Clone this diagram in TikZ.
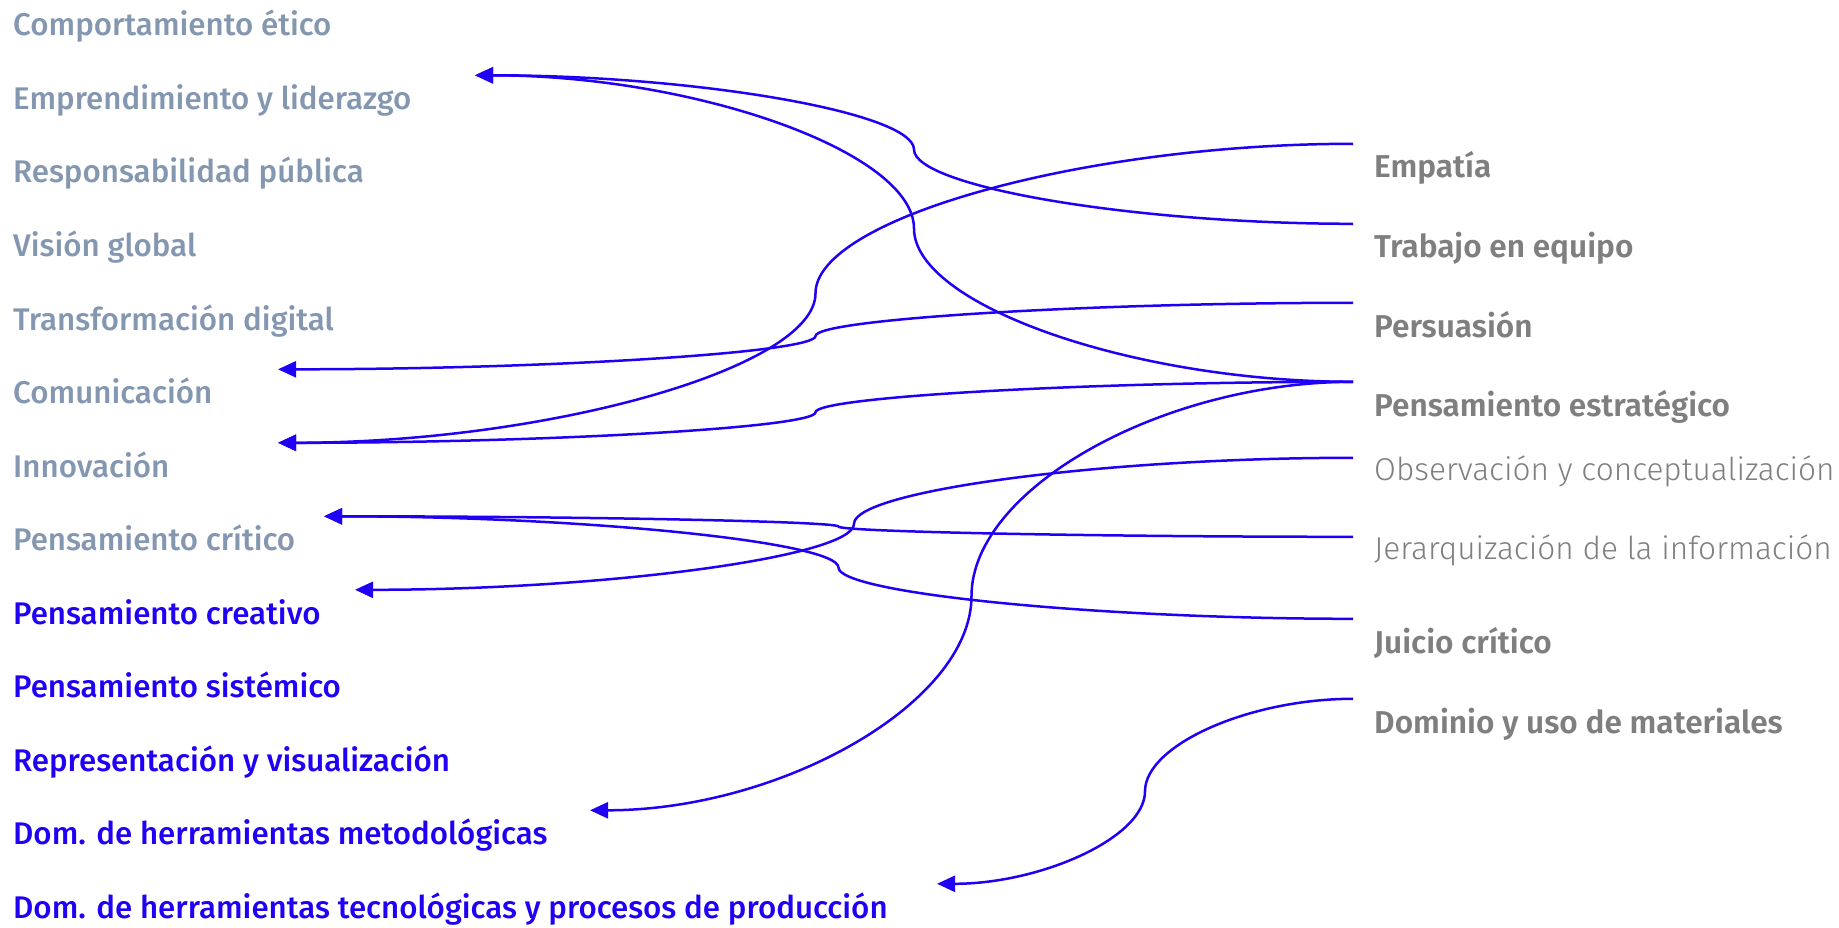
\documentclass[tikz,border=0pt]{standalone}
\usepackage{fontspec}
\setmainfont{Fira Sans}
\newfontfamily\leftfont{Fira Sans Medium}
\newfontfamily\rightfont{Fira Sans SemiBold}
\newfontfamily\lightfont{Fira Sans Light}
\usetikzlibrary{arrows.meta,calc}
\definecolor{slate}{HTML}{8497B0}
\definecolor{vivid}{RGB}{32,0,245}
\definecolor{mute}{HTML}{7F7F7F}

\begin{document}
\begin{tikzpicture}[x=1pt,y=-1pt,
  lab/.style={anchor=base west,inner xsep=0pt,inner ysep=0pt,text height=34pt,
    font=\leftfont\fontsize{31.3}{38}\selectfont},
  soft/.style={lab,text=slate},
  core/.style={lab,text=vivid},
  skill/.style={anchor=base west,inner xsep=21pt,inner ysep=0pt,text height=34pt,
    text=mute,font=\rightfont\fontsize{31.6}{37}\selectfont},
  skilllight/.style={skill,text height=22pt,font=\lightfont\fontsize{31.6}{37}\selectfont},
  flow/.style={to path={let \p1=(\tikztostart), \p2=(\tikztotarget) in
    .. controls ({0.75*\x1+0.25*\x2},\y1) and ({0.5*\x1+0.5*\x2},{0.75*\y1+0.25*\y2})
    .. ({0.5*\x1+0.5*\x2},{0.5*\y1+0.5*\y2})
    .. controls ({0.5*\x1+0.5*\x2},{0.25*\y1+0.75*\y2}) and ({0.25*\x1+0.75*\x2},\y2)
    .. (\tikztotarget)}},
  link/.style={flow,draw=vivid,line width=2.5pt,-{Triangle[length=18pt,width=16pt]}}]
  \useasboundingbox (0,0) rectangle (1839,928);

  % competencias (izquierda)
  \node[soft] (comp)  at (13,36)    {Comportamiento ético};
  \node[soft] (empr)  at (13,109.5) {Emprendimiento y liderazgo};
  \node[soft] (resp)  at (13,183)   {Responsabilidad pública};
  \node[soft] (vis)   at (13,256.5) {Visión global};
  \node[soft] (trans) at (13,330)   {Transformación digital};
  \node[soft] (comu)  at (13,403.5) {Comunicación};
  \node[soft] (inno)  at (13,477)   {Innovación};
  \node[soft] (pcrit) at (13,550.5) {Pensamiento crítico};
  \node[core] (pcrea) at (13,624)   {Pensamiento creativo};
  \node[core] (psist) at (13,697.5) {Pensamiento sistémico};
  \node[core] (repr)  at (13,771)   {Representación y visualización};
  \node[core] (metod) at (13,844.5) {Dom. de herramientas metodológicas};
  \node[core] (tecno) at (13,918)   {Dom. de herramientas tecnológicas y procesos de producción};

  % habilidades (derecha)
  \node[skill] (emp)  at (1353,178) {Empatía};
  \node[skill] (trab) at (1353,258) {Trabajo en equipo};
  \node[skill] (pers) at (1353,337) {Persuasión};
  \node[skill] (pest) at (1353,416) {Pensamiento estratégico};
  \node[skilllight] (obs) at (1353,480) {Observación y conceptualización};
  \node[skilllight] (jer) at (1353,559) {Jerarquización de la información};
  \node[skill] (juic) at (1353,653) {Juicio crítico};
  \node[skill] (dom)  at (1353,733) {Dominio y uso de materiales};

  \path
  (trab.north west) edge[link] (475,0 |- empr.north)
  (pest.north west) edge[link] (475,0 |- empr.north)
  (pers.north west) edge[link] (278,0 |- comu.north)
  (emp.north west)  edge[link] (278,0 |- inno.north)
  (pest.north west) edge[link] (278,0 |- inno.north)
  (jer.north west)  edge[link] (324,0 |- pcrit.north)
  (juic.north west) edge[link] (324,0 |- pcrit.north)
  (obs.north west)  edge[link] (355,0 |- pcrea.north)
  (pest.north west) edge[link] (590,0 |- metod.north)
  (dom.north west)  edge[link] (937,0 |- tecno.north);
\end{tikzpicture}
\end{document}
